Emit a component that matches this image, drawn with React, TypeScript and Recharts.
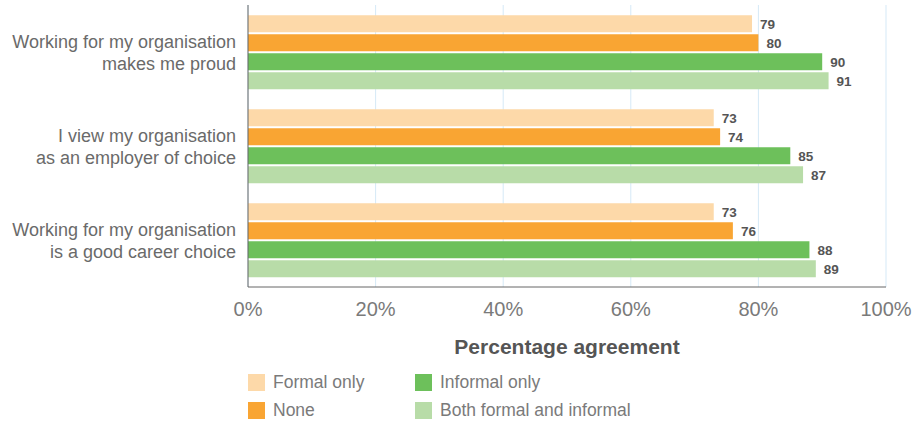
import React from "react";
import { BarChart, Bar, XAxis, YAxis, CartesianGrid, LabelList, Legend, Label } from "recharts";

const categories = [
  "Working for my organisation|makes me proud",
  "I view my organisation|as an employer of choice",
  "Working for my organisation|is a good career choice",
];
const formalOnly = [79, 73, 73];
const noneValues = [80, 74, 76];
const informalOnly = [90, 85, 88];
const bothValues = [91, 87, 89];
const xTicks = [0, 20, 40, 60, 80, 100];

const seriesInfo = [
  { key: "formal", name: "Formal only", color: "#FDD9A9" },
  { key: "none", name: "None", color: "#F9A533" },
  { key: "informal", name: "Informal only", color: "#6DC05B" },
  { key: "both", name: "Both formal and informal", color: "#B8DCA8" },
];

const data = categories.map((c, i) => ({
  category: c,
  formal: formalOnly[i],
  none: noneValues[i],
  informal: informalOnly[i],
  both: bothValues[i],
}));

const FONT = "'Liberation Sans', Arial, sans-serif";

const CategoryTick = (props: any) => {
  const { x, y, payload } = props;
  const lines = String(payload.value).split("|");
  return (
    <text x={x} y={y} textAnchor="end" fill="#6a6a6a" fontSize={18} fontFamily={FONT}>
      {lines.map((l, i) => (
        <tspan key={i} x={x} dy={i === 0 ? -4 : 22}>
          {l}
        </tspan>
      ))}
    </text>
  );
};

const LegendContent = () => {
  const order = [
    [seriesInfo[0], seriesInfo[2]],
    [seriesInfo[1], seriesInfo[3]],
  ];
  return (
    <div style={{ fontFamily: FONT, fontSize: 17.5, color: "#7a7a7a" }}>
      {order.map((row, r) => (
        <div key={r} style={{ display: "flex", height: 28, alignItems: "center" }}>
          {row.map((s, c) => (
            <div key={s.key} style={{ display: "flex", alignItems: "center", width: c === 0 ? 167 : 260 }}>
              <span style={{ display: "inline-block", width: 17, height: 17, background: s.color, marginRight: 8 }} />
              <span>{s.name}</span>
            </div>
          ))}
        </div>
      ))}
    </div>
  );
};

export default function App() {
  return (
    <div style={{ width: 919, height: 424, background: "#fff" }}>
      <style>{"body{margin:0}"}</style>
      <BarChart
        width={919}
        height={424}
        data={data}
        layout="vertical"
        margin={{ top: 5, right: 33, left: 0, bottom: 67 }}
        barCategoryGap="11%"
        barGap={2}
      >
        <CartesianGrid vertical={true} horizontal={false} stroke="#D5E9F7" strokeWidth={1} />
        <XAxis
          type="number"
          domain={[0, 100]}
          ticks={xTicks}
          tickFormatter={(v: number) => `${v}%`}
          tick={{ fill: "#7a7a7a", fontSize: 20, fontFamily: FONT }}
          tickLine={false}
          axisLine={{ stroke: "#666" }}
          tickMargin={9}
          height={70}
        >
          <Label
            value="Percentage agreement"
            position="insideBottom"
            offset={3}
            style={{ fill: "#555", fontSize: 21, fontWeight: "bold", fontFamily: FONT }}
          />
        </XAxis>
        <YAxis
          type="category"
          dataKey="category"
          width={248}
          tick={<CategoryTick />}
          tickLine={false}
          axisLine={{ stroke: "#666" }}
          tickMargin={6}
          interval={0}
        />
        <Legend
          layout="horizontal"
          verticalAlign="middle"
          align="center"
          content={<LegendContent />}
          wrapperStyle={{ top: 368, left: 248, width: 500 }}
        />
        {seriesInfo.map((s) => (
          <Bar key={s.key} dataKey={s.key} name={s.name} fill={s.color} isAnimationActive={false}>
            <LabelList
              dataKey={s.key}
              position="right"
              offset={8}
              style={{ fill: "#555", fontSize: 13.5, fontWeight: 600, fontFamily: FONT }}
            />
          </Bar>
        ))}
      </BarChart>
    </div>
  );
}
